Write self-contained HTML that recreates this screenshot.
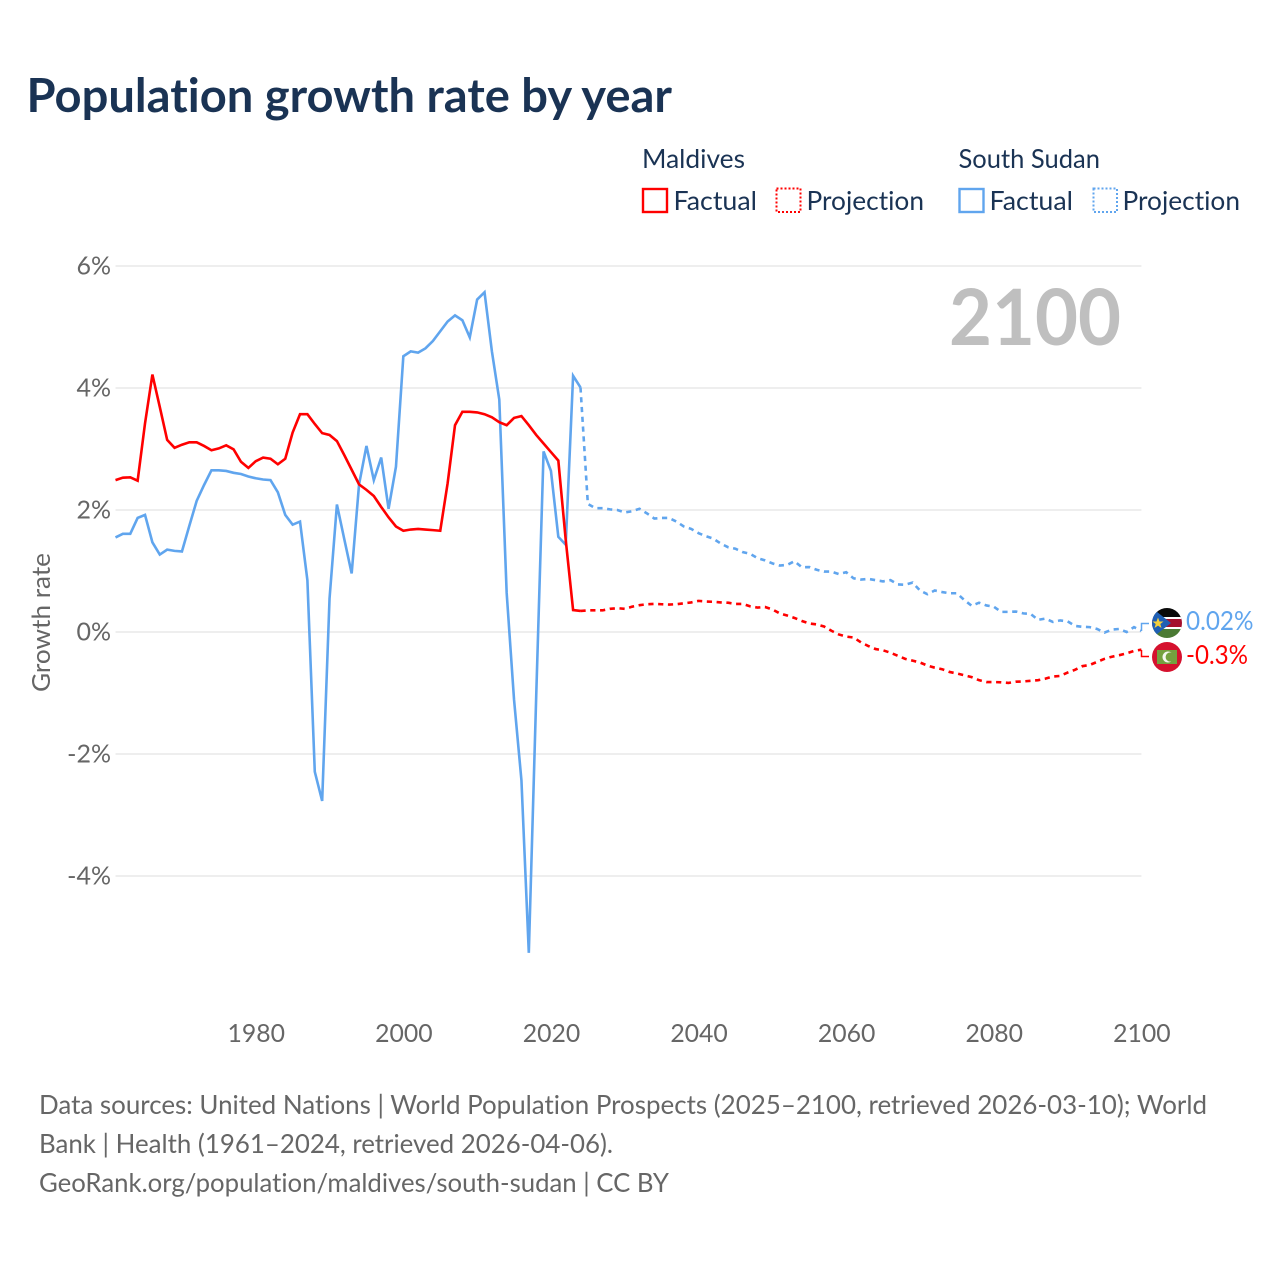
<!DOCTYPE html>
<html lang="en">
<head>
<meta charset="utf-8">
<title>Population growth rate by year</title>
<style>
html,body{margin:0;padding:0;background:#fff;width:1280px;height:1280px;overflow:hidden}
svg{display:block}
text{font-family:"Lato","Carlito","Liberation Sans",sans-serif;font-variant-ligatures:none}
.tick{font-size:25px;fill:#666}
.legend{font-size:26px;fill:#1a3354}
.foot{font-size:26px;fill:#666}
</style>
</head>
<body>
<svg id="chart" xmlns="http://www.w3.org/2000/svg" width="1280" height="1280" viewBox="0 0 1280 1280">
  <defs>
    <clipPath id="flag-clip-ss"><circle cx="1167" cy="623" r="15"/></clipPath>
    <clipPath id="flag-clip-mv"><circle cx="1167" cy="657" r="15"/></clipPath>
  </defs>
  <rect x="0" y="0" width="1280" height="1280" fill="#fff"/>
  <text x="26.500" y="112" font-size="47" font-weight="700" fill="#1a3354" textLength="645.500" lengthAdjust="spacingAndGlyphs">Population growth rate by year</text>

  <g>
    <text class="legend" x="642" y="168" textLength="103" lengthAdjust="spacingAndGlyphs">Maldives</text>
    <text class="legend" x="958.500" y="168" textLength="141.500" lengthAdjust="spacingAndGlyphs">South Sudan</text>
    <rect x="643" y="189" width="24" height="23" fill="none" stroke="#ff0000" stroke-width="2.400"/>
    <text class="legend" x="673.500" y="210" textLength="83.500" lengthAdjust="spacingAndGlyphs">Factual</text>
    <rect x="776.500" y="188.500" width="24" height="23.500" fill="none" stroke="#ff0000" stroke-width="2" stroke-dasharray="2 2"/>
    <text class="legend" x="806.500" y="210" textLength="117.500" lengthAdjust="spacingAndGlyphs">Projection</text>
    <rect x="959.500" y="189" width="24" height="23" fill="none" stroke="#60a5ee" stroke-width="2.400"/>
    <text class="legend" x="989.500" y="210" textLength="83.500" lengthAdjust="spacingAndGlyphs">Factual</text>
    <rect x="1093.500" y="188.500" width="23.500" height="23.500" fill="none" stroke="#60a5ee" stroke-width="2" stroke-dasharray="2 2"/>
    <text class="legend" x="1122.500" y="210" textLength="117.500" lengthAdjust="spacingAndGlyphs">Projection</text>
  </g>

  <g id="grid"></g>
  <g id="yticks"></g>
  <g id="xticks"></g>
  <text class="tick" transform="translate(50,692) rotate(-90)" textLength="139" lengthAdjust="spacingAndGlyphs">Growth rate</text>

  <text x="949" y="345" font-size="78" font-weight="700" fill="#bfbfbf" textLength="172" lengthAdjust="spacingAndGlyphs">2100</text>

  <g id="series"></g>

  <g>
    <path d="M1141.500 631V623.500H1149" fill="none" stroke="#60a5ee" stroke-width="1.500"/>
    <g clip-path="url(#flag-clip-ss)">
      <rect x="1152" y="608" width="30" height="10" fill="#0a0a0a"/>
      <rect x="1152" y="618" width="30" height="10" fill="#a50f2d"/>
      <rect x="1152" y="628" width="30" height="10" fill="#4b7a34"/>
      <rect x="1152" y="617" width="30" height="2" fill="#fff"/>
      <rect x="1152" y="627" width="30" height="2" fill="#fff"/>
      <polygon points="1152,608 1171,623 1152,638" fill="#1f5fb4"/>
      <polygon points="1158,617.500 1159.500,621.500 1163.500,621.500 1160.300,624 1161.500,628 1158,625.600 1154.500,628 1155.700,624 1152.500,621.500 1156.500,621.500" fill="#f5cf3a"/>
    </g>
    <text x="1186" y="630" font-size="26" fill="#60a5ee" textLength="67.500" lengthAdjust="spacingAndGlyphs">0.02%</text>
  </g>
  <g>
    <path d="M1141.500 650V656.500H1149" fill="none" stroke="#ff0000" stroke-width="1.500"/>
    <g clip-path="url(#flag-clip-mv)">
      <rect x="1152" y="642" width="30" height="30" fill="#d5112e"/>
      <rect x="1157" y="650" width="20" height="14" fill="#74a03f"/>
      <circle cx="1168" cy="657" r="5.500" fill="#f4f7ee"/>
      <circle cx="1170.200" cy="657" r="4.600" fill="#74a03f"/>
    </g>
    <text x="1186" y="664" font-size="26" fill="#ff0000" textLength="62" lengthAdjust="spacingAndGlyphs">-0.3%</text>
  </g>

  <g>
    <text class="foot" x="39" y="1114" textLength="1168" lengthAdjust="spacingAndGlyphs">Data sources: United Nations | World Population Prospects (2025–2100, retrieved 2026-03-10); World</text>
    <text class="foot" x="39" y="1153" textLength="574" lengthAdjust="spacingAndGlyphs">Bank | Health (1961–2024, retrieved 2026-04-06).</text>
    <text class="foot" x="39" y="1192" textLength="630" lengthAdjust="spacingAndGlyphs">GeoRank.org/population/maldives/south-sudan | CC BY</text>
  </g>
</svg>

<script>
var yTickValues = [6, 4, 2, 0, -2, -4];
var yTickLabels = ['6%', '4%', '2%', '0%', '-2%', '-4%'];
var xTickValues = [1980, 2000, 2020, 2040, 2060, 2080, 2100];
var xTickLabels = ['1980', '2000', '2020', '2040', '2060', '2080', '2100'];

var factualStartYear = 1961;
var projectionStartYear = 2024;

var maldivesFactual = [2.49,2.53,2.535,2.48,3.42,4.22,3.69,3.15,3.02,3.07,3.11,3.11,3.05,2.98,3.01,3.06,2.995,2.79,2.69,2.80,2.86,2.84,2.75,2.84,3.27,3.57,3.57,3.41,3.26,3.23,3.13,2.90,2.66,2.42,2.33,2.23,2.05,1.88,1.73,1.66,1.68,1.69,1.68,1.67,1.66,2.44,3.39,3.61,3.61,3.60,3.57,3.52,3.44,3.39,3.51,3.54,3.39,3.23,3.09,2.95,2.81,1.51,0.36,0.345];

var maldivesProjection = [0.345,0.355,0.355,0.355,0.38,0.39,0.38,0.415,0.44,0.455,0.46,0.455,0.45,0.455,0.47,0.485,0.51,0.50,0.495,0.485,0.48,0.46,0.46,0.42,0.40,0.41,0.37,0.305,0.27,0.23,0.18,0.14,0.125,0.09,0.02,-0.04,-0.075,-0.09,-0.17,-0.23,-0.28,-0.30,-0.34,-0.39,-0.44,-0.47,-0.50,-0.55,-0.585,-0.61,-0.655,-0.68,-0.71,-0.74,-0.79,-0.82,-0.82,-0.825,-0.835,-0.815,-0.81,-0.80,-0.79,-0.765,-0.73,-0.72,-0.665,-0.62,-0.56,-0.54,-0.49,-0.44,-0.405,-0.38,-0.35,-0.31,-0.29];

var southSudanFactual = [1.55,1.61,1.61,1.87,1.92,1.47,1.27,1.35,1.33,1.32,1.74,2.15,2.41,2.65,2.65,2.64,2.61,2.59,2.55,2.52,2.50,2.49,2.29,1.92,1.76,1.81,0.85,-2.29,-2.77,0.55,2.09,1.52,0.96,2.42,3.05,2.49,2.86,2.02,2.71,4.52,4.60,4.58,4.65,4.77,4.93,5.09,5.19,5.11,4.83,5.45,5.57,4.60,3.81,0.64,-1.11,-2.43,-5.26,-1.06,2.96,2.64,1.56,1.43,4.20,4.01];

var southSudanProjection = [4.01,2.10,2.03,2.03,2.01,2.00,1.96,1.98,2.02,1.945,1.86,1.87,1.87,1.81,1.73,1.69,1.62,1.57,1.53,1.45,1.39,1.365,1.31,1.28,1.21,1.175,1.125,1.09,1.10,1.16,1.06,1.065,1.02,0.99,0.99,0.95,0.98,0.88,0.86,0.87,0.85,0.83,0.85,0.78,0.775,0.81,0.68,0.62,0.68,0.655,0.635,0.635,0.525,0.43,0.48,0.435,0.415,0.33,0.33,0.335,0.305,0.295,0.20,0.22,0.165,0.19,0.175,0.10,0.085,0.08,0.05,-0.01,0.04,0.05,0.00,0.08,0.02];

function xScale(year) { return 115.5 + (year - 1961) * (1141.4 - 115.5) / (2100 - 1961); }
function yScale(value) { return 632 - value * 61; }

var SVG_NS = 'http://www.w3.org/2000/svg';
var gridGroup = document.getElementById('grid');
var yTickGroup = document.getElementById('yticks');
var xTickGroup = document.getElementById('xticks');
var seriesGroup = document.getElementById('series');

yTickValues.forEach(function (value, i) {
  var line = document.createElementNS(SVG_NS, 'line');
  
  
  line.setAttribute('x1', xScale(1961));
  line.setAttribute('x2', xScale(2100));
  line.setAttribute('y1', yScale(value));
  line.setAttribute('y2', yScale(value));
  line.setAttribute('stroke', '#e9e9e9');
  line.setAttribute('stroke-width', '1.6');
  gridGroup.appendChild(line);

  var label = document.createElementNS(SVG_NS, 'text');
  
  
  label.setAttribute('class', 'tick');
  label.setAttribute('x', 111);
  label.setAttribute('y', yScale(value) + 8.5);
  label.setAttribute('text-anchor', 'end');
  label.textContent = yTickLabels[i];
  yTickGroup.appendChild(label);
});

xTickValues.forEach(function (year, i) {
  var label = document.createElementNS(SVG_NS, 'text');
  
  
  label.setAttribute('class', 'tick');
  label.setAttribute('x', xScale(year) + 0.5);
  label.setAttribute('y', 1042);
  label.setAttribute('text-anchor', 'middle');
  label.setAttribute('textLength', '57.5');
  label.setAttribute('lengthAdjust', 'spacingAndGlyphs');
  label.textContent = xTickLabels[i];
  xTickGroup.appendChild(label);
});

function linePath(values, startYear) {
  return values.map(function (value, i) {
    return (i === 0 ? 'M' : 'L') + xScale(startYear + i).toFixed(2) + ' ' + yScale(value).toFixed(2);
  }).join(' ');
}

function drawLine(values, startYear, color, dash, name) {
  var path = document.createElementNS(SVG_NS, 'path');
  
  
  path.setAttribute('d', linePath(values, startYear));
  path.setAttribute('fill', 'none');
  path.setAttribute('stroke', color);
  path.setAttribute('stroke-width', '2.6');
  path.setAttribute('stroke-linejoin', 'miter');
  if (dash) { path.setAttribute('stroke-dasharray', dash); }
  seriesGroup.appendChild(path);
}

drawLine(southSudanProjection, projectionStartYear, '#60a5ee', '5.2 4.6', 'south-sudan-projection-line');
drawLine(maldivesProjection, projectionStartYear, '#ff0000', '5.2 4.6', 'maldives-projection-line');
drawLine(southSudanFactual, factualStartYear, '#60a5ee', null, 'south-sudan-factual-line');
drawLine(maldivesFactual, factualStartYear, '#ff0000', null, 'maldives-factual-line');
</script>
</body>
</html>
